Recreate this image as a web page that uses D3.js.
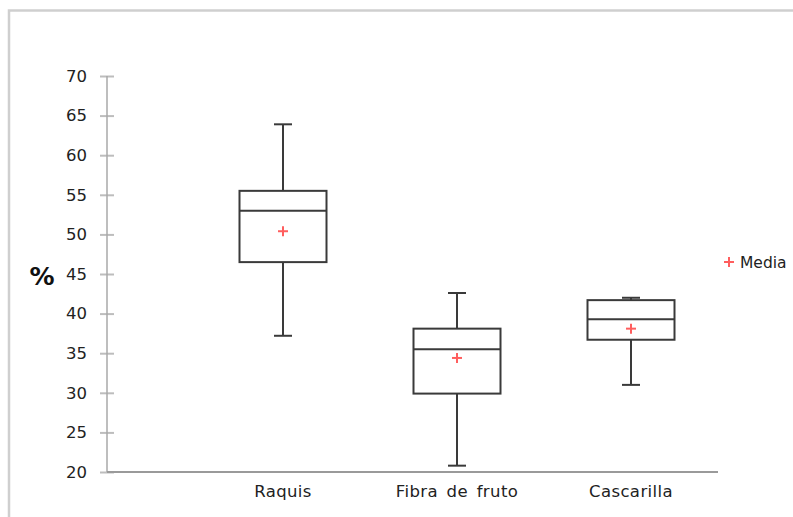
<!DOCTYPE html>
<html>
<head>
<meta charset="utf-8">
<script src="https://cdn.jsdelivr.net/npm/d3@7"></script>
<style>
  html, body { margin: 0; padding: 0; background: #fff; }
  svg { display: block; }
</style>
</head>
<body>
<svg id="chart" width="793" height="517"></svg>
<script>
// Box-plot summaries per residue type (% values)
const categories = ["Raquis", "Fibra de fruto", "Cascarilla"];
const minimum   = [37.2, 20.8, 31.0];
const q1        = [46.5, 29.9, 36.7];
const median    = [53.0, 35.5, 39.3];
const q3        = [55.5, 38.1, 41.7];
const maximum   = [63.9, 42.6, 42.0];
const mean      = [50.4, 34.4, 38.1];
const yTicks    = [20, 25, 30, 35, 40, 45, 50, 55, 60, 65, 70];
const yLabel    = "%";
const legendLabel = "Media";

const rows = categories.map((c, i) => ({
  cat: c, min: minimum[i], q1: q1[i], med: median[i], q3: q3[i], max: maximum[i], mean: mean[i]
}));

const svg = d3.select("#chart");
const font = "'Comic Sans MS', 'DejaVu Sans', sans-serif";

// outer frame
svg.append("rect")
  .attr("x", 9).attr("y", 10.5)
  .attr("width", 900).attr("height", 600)
  .attr("fill", "none").attr("stroke", "#cfcfcf").attr("stroke-width", 2.5);

const plotLeft = 107, plotRight = 718, plotTop = 76, plotBottom = 472;

const y = d3.scaleLinear().domain([20, 70]).range([plotBottom, plotTop]);
const x = d3.scaleBand().domain(categories).range([196, 718]).paddingInner(0).paddingOuter(0);

// y axis
const yAxis = svg.append("g")
  .attr("transform", `translate(${plotLeft},0)`)
  .call(d3.axisLeft(y).tickValues(yTicks).tickSize(7).tickPadding(13).tickFormat(d3.format("d")));
yAxis.select(".domain").remove();
yAxis.selectAll(".tick line").attr("stroke", "#bdbdbd").attr("stroke-width", 2).attr("x2", 7).attr("x1", -7);
yAxis.selectAll(".tick text").attr("font-family", font).attr("font-size", 16.5).attr("fill", "#222");
svg.append("line")
  .attr("x1", plotLeft).attr("x2", plotLeft).attr("y1", y(70)).attr("y2", plotBottom)
  .attr("stroke", "#a8a8a8").attr("stroke-width", 1.5);

// x axis
svg.append("line")
  .attr("x1", plotLeft).attr("x2", plotRight).attr("y1", plotBottom).attr("y2", plotBottom)
  .attr("stroke", "#9a9a9a").attr("stroke-width", 2);
svg.append("g").selectAll("text").data(categories).join("text")
  .attr("x", d => x(d) + x.bandwidth() / 2)
  .attr("y", 497)
  .attr("text-anchor", "middle")
  .attr("font-family", font).attr("font-size", 16.5).attr("letter-spacing", 0.4)
  .attr("word-spacing", 3).attr("fill", "#222")
  .text(d => d);

// y label
svg.append("text")
  .attr("x", 42).attr("y", 285)
  .attr("text-anchor", "middle")
  .attr("font-family", font).attr("font-size", 25).attr("font-weight", "bold").attr("fill", "#111")
  .text(yLabel);

// boxes
const boxW = x.bandwidth() * 0.5, capW = 18;
const stroke = "#3a3a3a";
const g = svg.append("g").selectAll("g").data(rows).join("g")
  .attr("transform", d => `translate(${x(d.cat) + x.bandwidth() / 2},0)`);

g.append("line").attr("x1", 0).attr("x2", 0)
  .attr("y1", d => y(d.q3)).attr("y2", d => y(d.max))
  .attr("stroke", stroke).attr("stroke-width", 2);
g.append("line").attr("x1", 0).attr("x2", 0)
  .attr("y1", d => y(d.q1)).attr("y2", d => y(d.min))
  .attr("stroke", stroke).attr("stroke-width", 2);
g.append("line").attr("x1", -capW / 2).attr("x2", capW / 2)
  .attr("y1", d => y(d.max)).attr("y2", d => y(d.max))
  .attr("stroke", stroke).attr("stroke-width", 2);
g.append("line").attr("x1", -capW / 2).attr("x2", capW / 2)
  .attr("y1", d => y(d.min)).attr("y2", d => y(d.min))
  .attr("stroke", stroke).attr("stroke-width", 2);
g.append("rect")
  .attr("x", -boxW / 2).attr("width", boxW)
  .attr("y", d => y(d.q3)).attr("height", d => y(d.q1) - y(d.q3))
  .attr("fill", "#fff").attr("stroke", stroke).attr("stroke-width", 2);
g.append("line").attr("x1", -boxW / 2).attr("x2", boxW / 2)
  .attr("y1", d => y(d.med)).attr("y2", d => y(d.med))
  .attr("stroke", stroke).attr("stroke-width", 2);

// mean markers
const plus = (sel, size) => {
  sel.append("line").attr("x1", -size / 2).attr("x2", size / 2).attr("y1", 0).attr("y2", 0);
  sel.append("line").attr("x1", 0).attr("x2", 0).attr("y1", -size / 2).attr("y2", size / 2);
  sel.selectAll("line").attr("stroke", "#ff5e5e").attr("stroke-width", 2);
};
g.append("g").attr("transform", d => `translate(0,${y(d.mean)})`).call(plus, 10);

// legend
svg.append("g").attr("transform", "translate(729,262)").call(plus, 10);
svg.append("text")
  .attr("x", 740).attr("y", 268)
  .attr("font-family", font).attr("font-size", 15.5).attr("fill", "#222")
  .text(legendLabel);
</script>
</body>
</html>
